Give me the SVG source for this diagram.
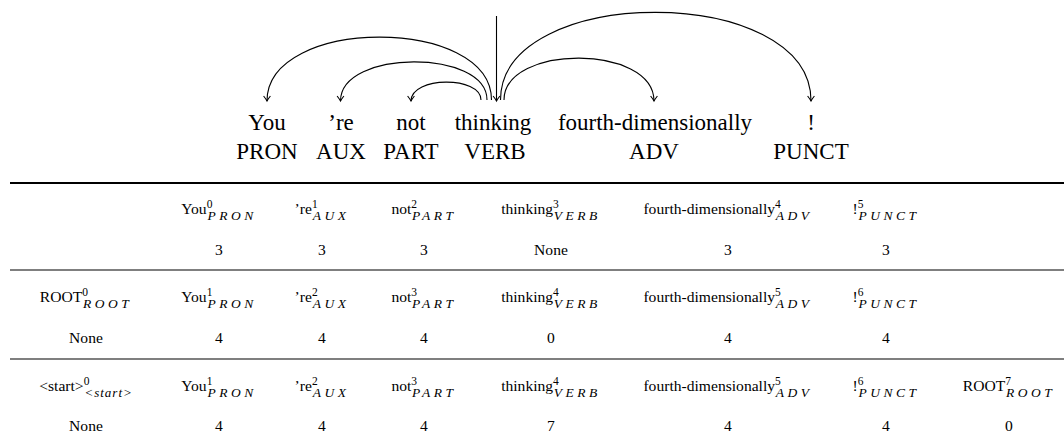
<svg xmlns="http://www.w3.org/2000/svg" width="1064" height="439" viewBox="0 0 1064 439">
<style>
  .w{font-family:"Liberation Serif","Times New Roman",serif;font-size:23px;fill:#000;text-anchor:middle}
  .t{font-family:"Liberation Serif","Times New Roman",serif;font-size:15.6px;fill:#000;text-anchor:middle}
  .sup{font-size:11.5px}
  .sub{font-size:13.5px;font-style:italic;letter-spacing:3.5px}
  .subl{font-size:13px;font-style:italic;letter-spacing:1px}
  .arc{fill:none;stroke:#000;stroke-width:1.1;marker-end:url(#ah)}
  .rule{stroke:#000;stroke-width:1.1}
</style>
<defs>
  <marker id="ah" markerUnits="userSpaceOnUse" orient="auto" markerWidth="12" markerHeight="12" viewBox="-7 -6 12 12" refX="0" refY="0" overflow="visible">
    <path d="M-5,-3.4 Q-1.8,-0.9 0,0 Q-1.8,0.9 -5,3.4" fill="none" stroke="#000" stroke-width="1.1"/>
  </marker>
</defs>
<rect width="1064" height="439" fill="#fff"/>

<g id="connectors">
  <path class="arc" d="M496.5,16 L496.5,101"/>
  <path class="arc" d="M491.5,100 C491.5,16 267,16 267,101"/>
  <path class="arc" d="M487,100 C487,49 340.5,49 340.5,101"/>
  <path class="arc" d="M481,100 C481,76 411,76 411,101"/>
  <path class="arc" d="M504,100 C504,44 654,44 654,101"/>
  <path class="arc" d="M500.5,100 C500.5,-17 811,-17 811,101"/>
</g>

<g id="tok-You"><text class="w" x="267" y="130">You</text><text class="w" x="267" y="159">PRON</text></g>
<g id="tok-re"><text class="w" x="341" y="130">’re</text><text class="w" x="341" y="159">AUX</text></g>
<g id="tok-not"><text class="w" x="411" y="130">not</text><text class="w" x="411" y="159">PART</text></g>
<g id="tok-thinking"><text class="w" x="493" y="130">thinking</text><text class="w" x="495" y="159">VERB</text></g>
<g id="tok-fourth"><text class="w" x="655" y="130">fourth-dimensionally</text><text class="w" x="654" y="159">ADV</text></g>
<g id="tok-punct"><text class="w" x="811" y="130">!</text><text class="w" x="811" y="159">PUNCT</text></g>

<g id="rules">
  <line x1="10" y1="183" x2="1064" y2="183" stroke="#000" stroke-width="2.2"/>
  <line class="rule" x1="10" y1="270" x2="1064" y2="270"/>
  <line class="rule" x1="10" y1="359" x2="1064" y2="359"/>
</g>

<g id="row1">
  <text class="t" x="219" y="214">You<tspan class="sup" dy="-6.5">0</tspan><tspan class="sub" dx="-5" dy="12">PRON</tspan></text>
  <text class="t" x="322" y="214">’re<tspan class="sup" dy="-6.5">1</tspan><tspan class="sub" dx="-5" dy="12">AUX</tspan></text>
  <text class="t" x="424" y="214">not<tspan class="sup" dy="-6.5">2</tspan><tspan class="sub" dx="-5" dy="12">PART</tspan></text>
  <text class="t" x="551" y="214">thinking<tspan class="sup" dy="-6.5">3</tspan><tspan class="sub" dx="-5" dy="12">VERB</tspan></text>
  <text class="t" x="728" y="214">fourth-dimensionally<tspan class="sup" dy="-6.5">4</tspan><tspan class="sub" dx="-5" dy="12">ADV</tspan></text>
  <text class="t" x="886" y="214">!<tspan class="sup" dy="-6.5">5</tspan><tspan class="sub" dx="-5" dy="12">PUNCT</tspan></text>
  <text class="t" x="219" y="255">3</text>
  <text class="t" x="322" y="255">3</text>
  <text class="t" x="424" y="255">3</text>
  <text class="t" x="551" y="255">None</text>
  <text class="t" x="728" y="255">3</text>
  <text class="t" x="886" y="255">3</text>
</g>

<g id="row2">
  <text class="t" x="86" y="302">ROOT<tspan class="sup" dy="-6.5">0</tspan><tspan class="sub" dx="-5" dy="12">ROOT</tspan></text>
  <text class="t" x="219" y="302">You<tspan class="sup" dy="-6.5">1</tspan><tspan class="sub" dx="-5" dy="12">PRON</tspan></text>
  <text class="t" x="322" y="302">’re<tspan class="sup" dy="-6.5">2</tspan><tspan class="sub" dx="-5" dy="12">AUX</tspan></text>
  <text class="t" x="424" y="302">not<tspan class="sup" dy="-6.5">3</tspan><tspan class="sub" dx="-5" dy="12">PART</tspan></text>
  <text class="t" x="551" y="302">thinking<tspan class="sup" dy="-6.5">4</tspan><tspan class="sub" dx="-5" dy="12">VERB</tspan></text>
  <text class="t" x="728" y="302">fourth-dimensionally<tspan class="sup" dy="-6.5">5</tspan><tspan class="sub" dx="-5" dy="12">ADV</tspan></text>
  <text class="t" x="886" y="302">!<tspan class="sup" dy="-6.5">6</tspan><tspan class="sub" dx="-5" dy="12">PUNCT</tspan></text>
  <text class="t" x="86" y="343">None</text>
  <text class="t" x="219" y="343">4</text>
  <text class="t" x="322" y="343">4</text>
  <text class="t" x="424" y="343">4</text>
  <text class="t" x="551" y="343">0</text>
  <text class="t" x="728" y="343">4</text>
  <text class="t" x="886" y="343">4</text>
</g>

<g id="row3">
  <text class="t" x="86" y="391">&lt;start&gt;<tspan class="sup" dy="-6.5">0</tspan><tspan class="subl" dx="-5" dy="12">&lt;start&gt;</tspan></text>
  <text class="t" x="219" y="391">You<tspan class="sup" dy="-6.5">1</tspan><tspan class="sub" dx="-5" dy="12">PRON</tspan></text>
  <text class="t" x="322" y="391">’re<tspan class="sup" dy="-6.5">2</tspan><tspan class="sub" dx="-5" dy="12">AUX</tspan></text>
  <text class="t" x="424" y="391">not<tspan class="sup" dy="-6.5">3</tspan><tspan class="sub" dx="-5" dy="12">PART</tspan></text>
  <text class="t" x="551" y="391">thinking<tspan class="sup" dy="-6.5">4</tspan><tspan class="sub" dx="-5" dy="12">VERB</tspan></text>
  <text class="t" x="728" y="391">fourth-dimensionally<tspan class="sup" dy="-6.5">5</tspan><tspan class="sub" dx="-5" dy="12">ADV</tspan></text>
  <text class="t" x="886" y="391">!<tspan class="sup" dy="-6.5">6</tspan><tspan class="sub" dx="-5" dy="12">PUNCT</tspan></text>
  <text class="t" x="1009" y="391">ROOT<tspan class="sup" dy="-6.5">7</tspan><tspan class="sub" dx="-5" dy="12">ROOT</tspan></text>
  <text class="t" x="86" y="431">None</text>
  <text class="t" x="219" y="431">4</text>
  <text class="t" x="322" y="431">4</text>
  <text class="t" x="424" y="431">4</text>
  <text class="t" x="551" y="431">7</text>
  <text class="t" x="728" y="431">4</text>
  <text class="t" x="886" y="431">4</text>
  <text class="t" x="1009" y="431">0</text>
</g>
</svg>
